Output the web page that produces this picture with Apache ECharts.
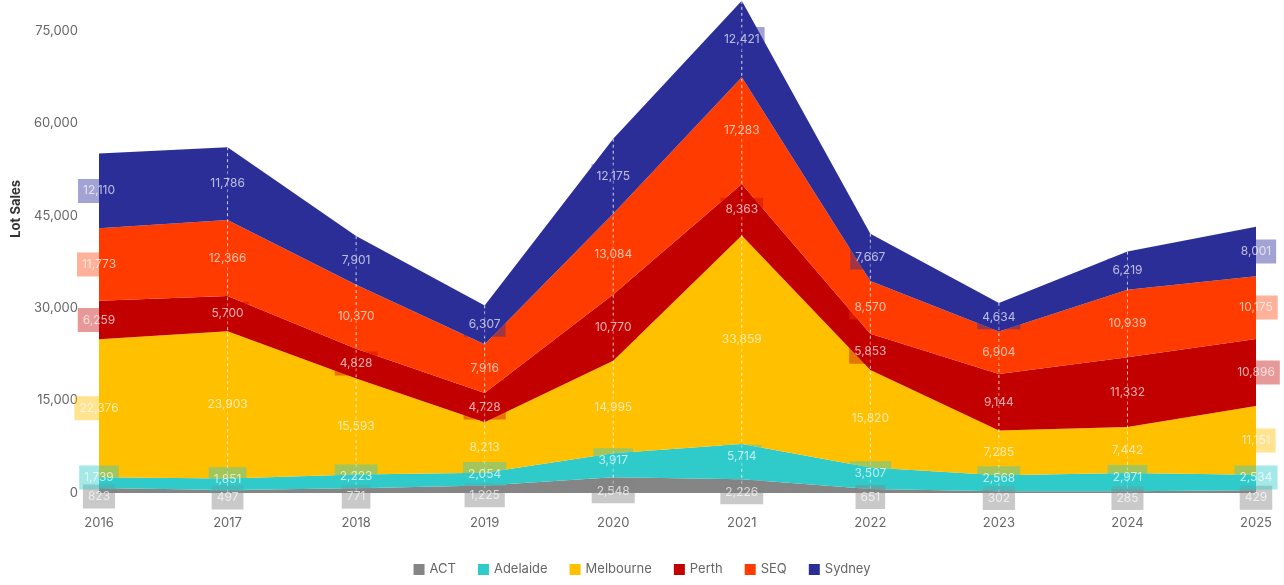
<!DOCTYPE html>
<html>
<head>
<meta charset="utf-8">
<title>Lot Sales by Region</title>
<script src="https://cdn.jsdelivr.net/npm/echarts@6/dist/echarts.min.js"></script>
<style>
  html, body { margin: 0; padding: 0; background: #ffffff; }
  #chart { width: 1284px; height: 585px; }
</style>
</head>
<body>
<div id="chart"></div>
<script>
// Annual lot sales by region (stacked bottom to top)
const years = ['2016', '2017', '2018', '2019', '2020', '2021', '2022', '2023', '2024', '2025'];

const act       = [823, 497, 771, 1225, 2548, 2226, 651, 302, 285, 429];
const adelaide  = [1739, 1851, 2223, 2054, 3917, 5714, 3507, 2568, 2971, 2534];
const melbourne = [22376, 23903, 15593, 8213, 14995, 33859, 15820, 7285, 7442, 11151];
const perth     = [6259, 5700, 4828, 4728, 10770, 8363, 5853, 9144, 11332, 10896];
const seq       = [11773, 12366, 10370, 7916, 13084, 17283, 8570, 6904, 10939, 10175];
const sydney    = [12110, 11786, 7901, 6307, 12175, 12421, 7667, 4634, 6219, 8001];

const yTicks = { min: 0, max: 80000, interval: 15000 };

// Thin bottom bands get their labels nudged apart so they don't collide
const regions = [
  { name: 'ACT',       data: act,       color: '#858585', box: 'rgba(133,133,133,0.55)', nudge: 6 },
  { name: 'Adelaide',  data: adelaide,  color: '#2fcaca', box: 'rgba(47,202,202,0.55)', nudge: -5 },
  { name: 'Melbourne', data: melbourne, color: '#ffc000', box: 'rgba(255,192,0,0.55)', nudge: 0 },
  { name: 'Perth',     data: perth,     color: '#c30000', box: 'rgba(195,0,0,0.5)', nudge: 0 },
  { name: 'SEQ',       data: seq,       color: '#ff3b00', box: 'rgba(255,59,0,0.5)', nudge: 0 },
  { name: 'Sydney',    data: sydney,    color: '#2c2e98', box: 'rgba(44,46,152,0.55)', nudge: 0 }
];

const fontFamily = 'Inter, "Noto Sans", sans-serif';
const fmt = v => Number(v).toLocaleString('en-US');

// Stacked totals, used for the drop lines
const totals = years.map((_, i) => regions.reduce((s, r) => s + r.data[i], 0));

const series = [];

// Stacked filled areas
regions.forEach(r => {
  series.push({
    name: r.name,
    type: 'line',
    stack: 'total',
    symbol: 'none',
    smooth: false,
    lineStyle: { width: 0 },
    areaStyle: { color: r.color, opacity: 1 },
    itemStyle: { color: r.color },
    emphasis: { disabled: true },
    z: 2,
    data: r.data
  });
});

// White dashed drop lines from each stack top to the baseline
series.push({
  type: 'custom',
  silent: true,
  z: 3,
  data: years.map((y, i) => [i, totals[i]]).filter((d, i) => i > 0 && i < years.length - 1),
  renderItem: function (params, api) {
    const top = api.coord([api.value(0), api.value(1)]);
    const bottom = api.coord([api.value(0), 0]);
    return {
      type: 'line',
      shape: { x1: top[0], y1: top[1], x2: bottom[0], y2: bottom[1] },
      style: { stroke: 'rgba(255,255,255,0.8)', lineWidth: 1, lineDash: [3, 3] }
    };
  }
});

// Value labels centred in each band
let base = years.map(() => 0);
regions.forEach(r => {
  const pts = r.data.map((v, i) => [i, base[i] + v / 2, v]);
  base = base.map((b, i) => b + r.data[i]);
  series.push({
    type: 'scatter',
    silent: true,
    symbolSize: 1,
    itemStyle: { color: 'rgba(0,0,0,0)' },
    z: 5,
    encode: { x: 0, y: 1 },
    data: pts,
    label: {
      show: true,
      position: 'inside',
      offset: [0, r.nudge],
      formatter: p => fmt(p.value[2]),
      color: 'rgba(255,255,255,0.85)',
      fontFamily: fontFamily,
      fontSize: 12,
      backgroundColor: r.box,
      padding: [6, 5, 6, 5]
    }
  });
});

const chart = echarts.init(document.getElementById('chart'), null, { renderer: 'canvas' });
chart.setOption({
  animation: false,
  backgroundColor: '#ffffff',
  textStyle: { fontFamily: fontFamily },
  grid: { left: 99, right: 28, top: 0, bottom: 92, containLabel: false },
  legend: {
    data: regions.map(r => r.name),
    bottom: 4,
    left: 'center',
    icon: 'rect',
    itemWidth: 11,
    itemHeight: 11,
    itemGap: 22,
    textStyle: { color: '#666666', fontSize: 13, fontFamily: fontFamily }
  },
  xAxis: {
    type: 'category',
    data: years,
    boundaryGap: false,
    axisLine: { show: false },
    axisTick: { show: false },
    splitLine: { show: false },
    axisLabel: { color: '#666666', fontSize: 13, margin: 24, fontFamily: fontFamily }
  },
  yAxis: {
    type: 'value',
    min: yTicks.min,
    max: yTicks.max,
    interval: yTicks.interval,
    axisLine: { show: false },
    axisTick: { show: false },
    splitLine: { show: false },
    axisLabel: {
      color: '#666666',
      fontSize: 13,
      margin: 21,
      showMaxLabel: false,
      fontFamily: fontFamily,
      formatter: v => fmt(v)
    }
  },
  graphic: [{
    type: 'text',
    left: 10,
    top: 180,
    rotation: Math.PI / 2,
    style: {
      text: 'Lot Sales',
      fill: '#333333',
      font: 'bold 13px ' + fontFamily
    }
  }],
  series: series
});
</script>
</body>
</html>
